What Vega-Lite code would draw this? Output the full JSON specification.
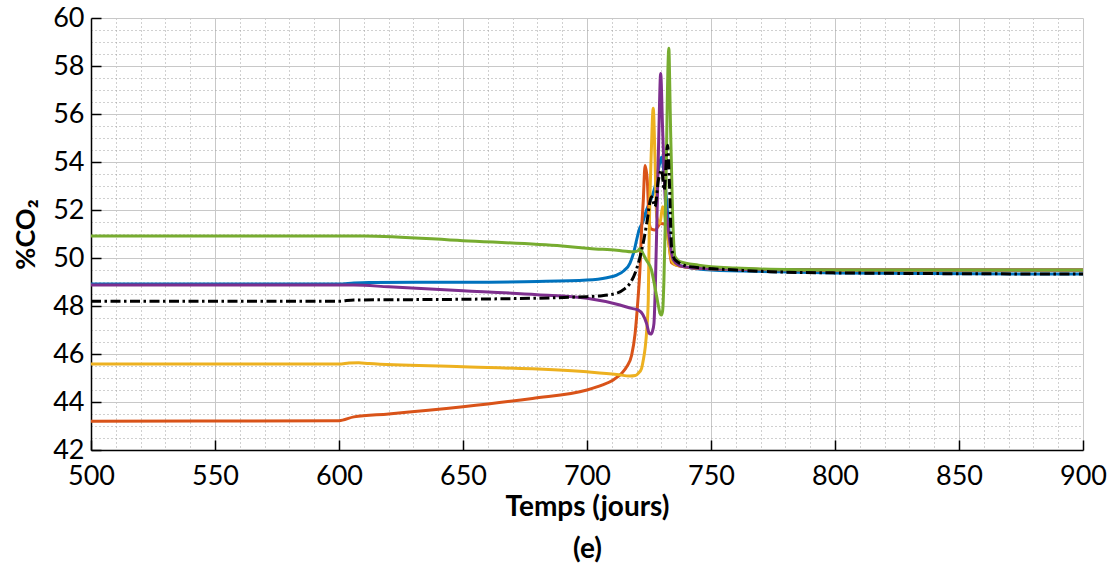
{
  "$schema": "https://vega.github.io/schema/vega-lite/v6.json",
  "autosize": "none",
  "width": 992,
  "height": 432,
  "padding": {"left": 91, "top": 18, "right": 32, "bottom": 114},
  "background": "white",
  "config": {"view": {"stroke": null}},
  "data": {"values": [
    {"s":"b","x":500,"y":48.92},{"s":"b","x":600,"y":48.92},{"s":"b","x":606,"y":48.96},{"s":"b","x":612,"y":48.98},{"s":"b","x":650,"y":48.99},{"s":"b","x":680,"y":49.02},{"s":"b","x":700,"y":49.08},{"s":"b","x":708,"y":49.18},{"s":"b","x":712,"y":49.29},{"s":"b","x":715,"y":49.48},{"s":"b","x":717.3,"y":49.78},{"s":"b","x":719,"y":50.3},{"s":"b","x":720,"y":50.75},{"s":"b","x":721,"y":51.17},{"s":"b","x":722.5,"y":51.5},{"s":"b","x":724,"y":52.0},{"s":"b","x":726,"y":52.5},{"s":"b","x":727.5,"y":53.0},{"s":"b","x":729,"y":53.8},{"s":"b","x":730,"y":54.2},{"s":"b","x":731,"y":53.6},{"s":"b","x":732,"y":52.5},{"s":"b","x":733,"y":51.2},{"s":"b","x":734,"y":50.0},{"s":"b","x":735.5,"y":49.75},{"s":"b","x":740,"y":49.62},{"s":"b","x":750,"y":49.5},{"s":"b","x":775,"y":49.43},{"s":"b","x":800,"y":49.38},{"s":"b","x":900,"y":49.33},
    {"s":"o","x":500,"y":43.2},{"s":"o","x":600,"y":43.22},{"s":"o","x":606,"y":43.38},{"s":"o","x":620,"y":43.5},{"s":"o","x":650,"y":43.8},{"s":"o","x":678,"y":44.15},{"s":"o","x":700,"y":44.5},{"s":"o","x":706,"y":44.7},{"s":"o","x":710.6,"y":44.92},{"s":"o","x":714,"y":45.2},{"s":"o","x":716,"y":45.47},{"s":"o","x":718,"y":45.95},{"s":"o","x":719.4,"y":46.86},{"s":"o","x":720.5,"y":48.2},{"s":"o","x":721.4,"y":49.64},{"s":"o","x":722,"y":51.17},{"s":"o","x":722.7,"y":52.4},{"s":"o","x":723.4,"y":53.85},{"s":"o","x":724.3,"y":53.25},{"s":"o","x":725.1,"y":51.44},{"s":"o","x":726,"y":51.2},{"s":"o","x":727.4,"y":51.17},{"s":"o","x":729.7,"y":51.44},{"s":"o","x":731.5,"y":51.4},{"s":"o","x":733,"y":50.6},{"s":"o","x":734.1,"y":49.8},{"s":"o","x":736,"y":49.7},{"s":"o","x":740,"y":49.62},{"s":"o","x":750,"y":49.55},{"s":"o","x":800,"y":49.5},{"s":"o","x":900,"y":49.5},
    {"s":"y","x":500,"y":45.58},{"s":"y","x":600,"y":45.58},{"s":"y","x":604,"y":45.62},{"s":"y","x":608,"y":45.64},{"s":"y","x":612,"y":45.6},{"s":"y","x":650,"y":45.47},{"s":"y","x":700,"y":45.26},{"s":"y","x":712,"y":45.15},{"s":"y","x":717.3,"y":45.08},{"s":"y","x":719.5,"y":45.1},{"s":"y","x":720.7,"y":45.2},{"s":"y","x":722,"y":45.4},{"s":"y","x":722.7,"y":45.75},{"s":"y","x":723.5,"y":46.3},{"s":"y","x":724.1,"y":47.0},{"s":"y","x":724.7,"y":48.25},{"s":"y","x":725.1,"y":51.17},{"s":"y","x":726,"y":54.64},{"s":"y","x":726.7,"y":56.24},{"s":"y","x":727.4,"y":54.22},{"s":"y","x":728.1,"y":51.72},{"s":"y","x":729.4,"y":51.44},{"s":"y","x":730.5,"y":52.14},{"s":"y","x":731.8,"y":51.44},{"s":"y","x":733,"y":50.6},{"s":"y","x":734.1,"y":49.92},{"s":"y","x":736,"y":49.7},{"s":"y","x":740,"y":49.62},{"s":"y","x":750,"y":49.55},{"s":"y","x":800,"y":49.5},{"s":"y","x":900,"y":49.5},
    {"s":"p","x":500,"y":48.87},{"s":"p","x":600,"y":48.87},{"s":"p","x":606,"y":48.87},{"s":"p","x":620,"y":48.8},{"s":"p","x":650,"y":48.64},{"s":"p","x":680,"y":48.47},{"s":"p","x":700,"y":48.32},{"s":"p","x":713.3,"y":48.04},{"s":"p","x":718,"y":47.9},{"s":"p","x":720.7,"y":47.83},{"s":"p","x":722.5,"y":47.65},{"s":"p","x":724,"y":47.28},{"s":"p","x":725.1,"y":46.86},{"s":"p","x":725.7,"y":46.83},{"s":"p","x":726.4,"y":46.95},{"s":"p","x":727,"y":47.28},{"s":"p","x":727.6,"y":49.0},{"s":"p","x":728.1,"y":51.17},{"s":"p","x":729,"y":55.33},{"s":"p","x":729.7,"y":57.69},{"s":"p","x":730.5,"y":55.33},{"s":"p","x":731.5,"y":52.55},{"s":"p","x":732.8,"y":51.17},{"s":"p","x":734.8,"y":49.92},{"s":"p","x":737,"y":49.7},{"s":"p","x":740,"y":49.62},{"s":"p","x":750,"y":49.55},{"s":"p","x":800,"y":49.5},{"s":"p","x":900,"y":49.5},
    {"s":"g","x":500,"y":50.92},{"s":"g","x":600,"y":50.92},{"s":"g","x":610,"y":50.92},{"s":"g","x":650,"y":50.72},{"s":"g","x":690,"y":50.5},{"s":"g","x":701,"y":50.4},{"s":"g","x":712,"y":50.32},{"s":"g","x":718.7,"y":50.26},{"s":"g","x":720.5,"y":50.3},{"s":"g","x":721.4,"y":50.4},{"s":"g","x":722.5,"y":50.2},{"s":"g","x":724,"y":49.9},{"s":"g","x":726,"y":49.5},{"s":"g","x":727,"y":49.0},{"s":"g","x":728.1,"y":48.39},{"s":"g","x":729,"y":47.9},{"s":"g","x":729.4,"y":47.7},{"s":"g","x":730,"y":47.62},{"s":"g","x":730.5,"y":47.8},{"s":"g","x":731,"y":49.0},{"s":"g","x":731.5,"y":51.17},{"s":"g","x":732,"y":54.0},{"s":"g","x":732.4,"y":56.72},{"s":"g","x":733,"y":58.74},{"s":"g","x":733.4,"y":57.0},{"s":"g","x":733.7,"y":55.33},{"s":"g","x":734.5,"y":51.86},{"s":"g","x":735.5,"y":50.05},{"s":"g","x":737.5,"y":49.85},{"s":"g","x":745,"y":49.7},{"s":"g","x":760,"y":49.58},{"s":"g","x":773.8,"y":49.53},{"s":"g","x":800,"y":49.5},{"s":"g","x":900,"y":49.5},
    {"s":"r","x":500,"y":48.2},{"s":"r","x":600,"y":48.2},{"s":"r","x":606,"y":48.25},{"s":"r","x":650,"y":48.28},{"s":"r","x":700,"y":48.39},{"s":"r","x":705,"y":48.42},{"s":"r","x":712,"y":48.53},{"s":"r","x":715,"y":48.7},{"s":"r","x":717.3,"y":48.94},{"s":"r","x":719.5,"y":49.4},{"s":"r","x":721.4,"y":50.05},{"s":"r","x":723,"y":50.8},{"s":"r","x":724.1,"y":51.45},{"s":"r","x":726,"y":52.55},{"s":"r","x":727.4,"y":52.14},{"s":"r","x":728.8,"y":53.25},{"s":"r","x":730.1,"y":53.67},{"s":"r","x":731.1,"y":52.83},{"s":"r","x":732.5,"y":54.7},{"s":"r","x":733.2,"y":53.25},{"s":"r","x":734.1,"y":50.47},{"s":"r","x":735.5,"y":49.92},{"s":"r","x":741.5,"y":49.64},{"s":"r","x":760,"y":49.5},{"s":"r","x":773.8,"y":49.43},{"s":"r","x":800,"y":49.38},{"s":"r","x":900,"y":49.33}
  ]},
  "encoding": {
    "x": {"field": "x", "type": "quantitative", "scale": {"domain": [500, 900], "nice": false, "zero": false},
      "axis": {
        "values": [500,510,520,530,540,550,560,570,580,590,600,610,620,630,640,650,660,670,680,690,700,710,720,730,740,750,760,770,780,790,800,810,820,830,840,850,860,870,880,890,900],
        "title": ["Temps (jours)", "(e)"],
        "titleFont": "Lato", "titleFontSize": 28, "titleFontWeight": "bold", "titleColor": "black", "titleLineHeight": 42, "titlePadding": 4,
        "labelExpr": "datum.value % 50 === 0 ? format(datum.value, 'd') : ''",
        "labelFont": "Lato", "labelFontSize": 27, "labelColor": "black", "labelFlush": false, "labelOverlap": false, "labelPadding": 23,
        "tickSize": -10, "tickColor": "black", "tickWidth": 1.5,
        "tickOpacity": {"condition": {"test": "datum.value % 50 === 0", "value": 1}, "value": 0},
        "grid": true,
        "gridColor": {"condition": {"test": "datum.value % 50 === 0", "value": "#c8c8c8"}, "value": "#a0a0a0"},
        "gridDash": {"condition": {"test": "datum.value % 50 === 0", "value": []}, "value": [1, 3]},
        "gridWidth": 1,
        "domainColor": "black", "domainWidth": 1.5
      }},
    "y": {"field": "y", "type": "quantitative", "scale": {"domain": [42, 60], "nice": false, "zero": false},
      "axis": {
        "values": [42,42.5,43,43.5,44,44.5,45,45.5,46,46.5,47,47.5,48,48.5,49,49.5,50,50.5,51,51.5,52,52.5,53,53.5,54,54.5,55,55.5,56,56.5,57,57.5,58,58.5,59,59.5,60],
        "title": "%CO₂",
        "titleFont": "Lato", "titleFontSize": 27, "titleFontWeight": "bold", "titleColor": "black", "titlePadding": 12,
        "labelExpr": "datum.value % 2 === 0 ? format(datum.value, 'd') : ''",
        "labelFont": "Lato", "labelFontSize": 27, "labelColor": "black", "labelFlush": false, "labelOverlap": false, "labelPadding": 17,
        "tickSize": -10, "tickColor": "black", "tickWidth": 1.5,
        "tickOpacity": {"condition": {"test": "datum.value % 2 === 0", "value": 1}, "value": 0},
        "grid": true,
        "gridColor": {"condition": {"test": "datum.value % 2 === 0", "value": "#c8c8c8"}, "value": "#a0a0a0"},
        "gridDash": {"condition": {"test": "datum.value % 2 === 0", "value": []}, "value": [1, 3]},
        "gridWidth": 1,
        "domainColor": "black", "domainWidth": 1.5
      }}
  },
  "layer": [
    {"transform": [{"filter": "datum.s !== 'r'"}],
     "mark": {"type": "line", "strokeWidth": 3, "interpolate": "monotone"},
     "encoding": {"color": {"field": "s", "type": "nominal", "legend": null,
        "scale": {"domain": ["b","o","y","p","g"], "range": ["#0072BD","#D95319","#EDB120","#7E2F8E","#77AC30"]}}}},
    {"transform": [{"filter": "datum.s === 'r'"}],
     "mark": {"type": "line", "strokeWidth": 3, "color": "black", "strokeDash": [10, 3.5, 2.5, 3.5], "interpolate": "monotone"},
     "encoding": {}}
  ]
}
